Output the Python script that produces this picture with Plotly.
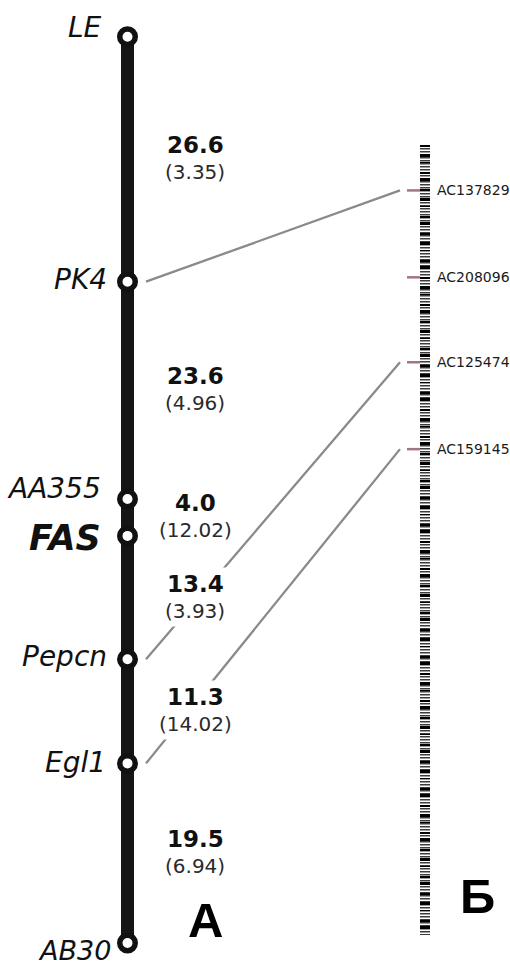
import plotly.graph_objects as go

# ---- genetic linkage map (A) ----
markers = ["LE", "PK4", "AA355", "FAS", "Pepcn", "Egl1", "AB30"]
interval_cm = [26.6, 23.6, 4.0, 13.4, 11.3, 19.5]
interval_lod = [3.35, 4.96, 12.02, 3.93, 14.02, 6.94]

# ---- physical map (Б): BAC clones, position along the chromosome (Mb) ----
bac_names = ["AC137829", "AC208096", "AC125474", "AC159145"]
bac_pos_mb = [2.3, 6.7, 11.0, 15.4]
phys_len_mb = 40.0

# genetic marker -> BAC clone
links = [("PK4", "AC137829"), ("Pepcn", "AC125474"), ("Egl1", "AC159145")]

# cumulative map positions (cM)
pos_cm = [0.0]
for d in interval_cm:
    pos_cm.append(round(pos_cm[-1] + d, 2))
marker_cm = dict(zip(markers, pos_cm))
bac_mb = dict(zip(bac_names, bac_pos_mb))

W, H = 510, 968
FONT = "DejaVu Sans"

# vertical scales: pixel rows of the map ends
top_px, bot_px = 36.7, 943.0
cm_per_px = pos_cm[-1] / (bot_px - top_px)
y_top = -top_px * cm_per_px
y_bot = pos_cm[-1] + (H - bot_px) * cm_per_px

phys_top_px, phys_bot_px = 145.0, 935.0
mb_per_px = phys_len_mb / (phys_bot_px - phys_top_px)
y2_top = -phys_top_px * mb_per_px
y2_bot = phys_len_mb + (H - phys_bot_px) * mb_per_px


def mb_to_cm_axis(mb):
    px = (mb - y2_top) / mb_per_px
    return y_top + px * cm_per_px


X_CHR = 127.5
X_LABEL = 195
X_PHYS = 425

fig = go.Figure()

# chromosome (A)
fig.add_trace(go.Scatter(
    x=[X_CHR, X_CHR], y=[pos_cm[0], pos_cm[-1]], mode="lines",
    line=dict(color="#151515", width=13), hoverinfo="skip"))

# physical map bar (Б), banded
fig.add_trace(go.Scatter(
    x=[X_PHYS, X_PHYS], y=[0, phys_len_mb], yaxis="y2", mode="lines",
    line=dict(color="#3c3c3c", width=10, dash="1.6px,1.4px"), hoverinfo="skip"))
fig.add_trace(go.Scatter(
    x=[X_PHYS, X_PHYS], y=[0, phys_len_mb], yaxis="y2", mode="lines",
    line=dict(color="#000000", width=10, dash="2px,7px,3px,5px,1px,9px,2px,4px,3px,8px"),
    hoverinfo="skip"))

# BAC ticks
tx, ty = [], []
for p in bac_pos_mb:
    tx += [407, 420, None]
    ty += [p, p, None]
fig.add_trace(go.Scatter(
    x=tx, y=ty, yaxis="y2", mode="lines",
    line=dict(color="#a27484", width=2.5), hoverinfo="skip"))

# connectors between maps
for m, b in links:
    fig.add_trace(go.Scatter(
        x=[146, 400], y=[marker_cm[m], mb_to_cm_axis(bac_mb[b])], mode="lines",
        line=dict(color="#8a8a8a", width=2.3), hoverinfo="skip"))

# marker loci
fig.add_trace(go.Scatter(
    x=[X_CHR] * len(markers), y=pos_cm, mode="markers",
    marker=dict(symbol="circle", size=15.5, color="white",
                line=dict(color="#111111", width=5.5)),
    hoverinfo="skip"))

annotations = []

# marker names: (right edge x, vertical shift px, size, bold)
name_style = {
    "LE": (103, 9, 28, False),
    "PK4": (108, 2, 28, False),
    "AA355": (102, 11, 28, False),
    "FAS": (102, -2, 35, True),
    "Pepcn": (108, 3, 28, False),
    "Egl1": (107, 1, 28, False),
    "AB30": (112, -7, 27, False),
}
for m in markers:
    xr, ys, sz, bold = name_style[m]
    annotations.append(dict(
        x=xr, y=marker_cm[m], xref="x", yref="y", text=m, showarrow=False,
        xanchor="right", yanchor="middle", yshift=ys, borderpad=0,
        font=dict(family=FONT, size=sz, color="#111111", style="italic",
                  weight="bold" if bold else "normal")))

# interval distances (cM) and LOD
for i, (d, lod) in enumerate(zip(interval_cm, interval_lod)):
    mid = (pos_cm[i] + pos_cm[i + 1]) / 2
    annotations.append(dict(
        x=X_LABEL, y=mid, xref="x", yref="y", text=f"<b>{d:.1f}</b>",
        showarrow=False, xanchor="center", yanchor="middle", yshift=14,
        bgcolor="white", borderpad=3,
        font=dict(family=FONT, size=23, color="#111111")))
    annotations.append(dict(
        x=X_LABEL, y=mid, xref="x", yref="y", text=f"({lod:.2f})",
        showarrow=False, xanchor="center", yanchor="middle", yshift=-13,
        bgcolor="white", borderpad=3,
        font=dict(family=FONT, size=20, color="#2a2a2a")))

# BAC names
for b, p in zip(bac_names, bac_pos_mb):
    annotations.append(dict(
        x=435, y=p, xref="x", yref="y2", text=b, showarrow=False,
        xanchor="left", yanchor="middle",
        font=dict(family=FONT, size=14, color="#1a1a1a")))

# panel letters
annotations.append(dict(
    x=205.5, y=1 - 920 / H, xref="x", yref="paper", text="<b>А</b>",
    showarrow=False, xanchor="center", yanchor="middle",
    font=dict(family="Liberation Sans", size=49, color="#000000")))
annotations.append(dict(
    x=477, y=1 - 896 / H, xref="x", yref="paper", text="<b>Б</b>",
    showarrow=False, xanchor="center", yanchor="middle",
    font=dict(family="Liberation Sans", size=49, color="#000000")))

fig.update_layout(
    width=W, height=H, margin=dict(l=0, r=0, t=0, b=0),
    paper_bgcolor="white", plot_bgcolor="white", showlegend=False,
    xaxis=dict(range=[0, W], visible=False, fixedrange=True),
    yaxis=dict(range=[y_bot, y_top], visible=False, fixedrange=True),
    yaxis2=dict(range=[y2_bot, y2_top], visible=False, overlaying="y",
                fixedrange=True),
    annotations=annotations,
)

fig.write_html("out.html")
